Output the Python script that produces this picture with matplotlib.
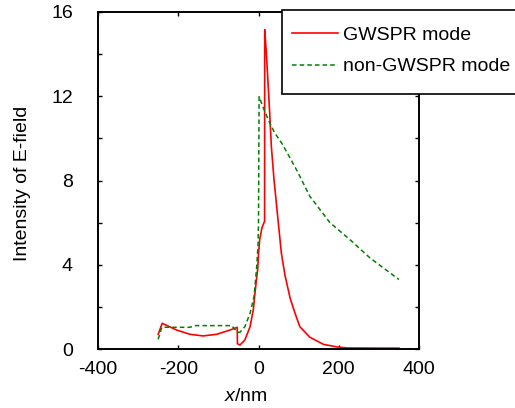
import numpy as np
import matplotlib
matplotlib.use('Agg')
import matplotlib.pyplot as plt
from matplotlib.patches import Rectangle
from matplotlib.ticker import MultipleLocator

plt.rcParams['font.family'] = ['Liberation Sans', 'DejaVu Sans']
plt.rcParams['mathtext.fontset'] = 'custom'
plt.rcParams['mathtext.rm'] = 'Liberation Sans'
plt.rcParams['mathtext.it'] = 'Liberation Sans:italic'
plt.rcParams['axes.unicode_minus'] = False

# GWSPR mode
x_gw = [-250, -240, -204, -171, -138, -104, -71, -53, -52.5, -46, -34, -21, -13, -7, -2, 0,
        3, 8.7, 13.7, 15.2, 15.5, 19.5, 23.7, 27.9, 32, 38.6, 48.6, 57, 66, 79, 91, 103,
        128, 162, 195, 220, 350]
y_gw = [0.7, 1.22, 0.9, 0.7, 0.62, 0.7, 0.9, 1.03, 0.25, 0.19, 0.43, 1.06, 1.86, 2.97, 3.8, 4.5,
        5.2, 5.76, 6.0, 6.05, 15.16, 14.08, 12.65, 11.2, 9.63, 8.05, 6.14, 4.55, 3.5, 2.4, 1.7, 1.06,
        0.56, 0.22, 0.1, 0.05, 0.04]

# non-GWSPR mode
x_non = [-250, -241, -171, -159, -67, -55, -51, -46, -34, -21, -11, -4.5, -1, 0,
         1.5, 11, 24, 40, 57, 72, 95, 128, 178, 228, 278, 350]
y_non = [0.46, 1.03, 1.03, 1.11, 1.11, 0.85, 0.79, 0.8, 1.06, 1.7, 2.5, 3.9, 5.0, 6.0,
         11.98, 11.5, 10.9, 10.27, 9.8, 9.3, 8.5, 7.25, 6.0, 5.19, 4.32, 3.3]

fig = plt.figure(figsize=(5.15, 4.08), dpi=100)
ax = fig.add_axes([98/515, 1-349/408, 321/515, 337/408])

ax.plot(x_gw, y_gw, color='#ff0000', lw=1.2, label='GWSPR mode')
ax.plot(x_non, y_non, color='#008000', lw=1.1, dashes=(3, 2), label='non-GWSPR mode')

ax.set_xlim(-400, 400)
ax.set_ylim(0, 16)
ax.set_xticks([-400, -200, 0, 200, 400])
ax.yaxis.set_major_locator(MultipleLocator(4))
ax.yaxis.set_minor_locator(MultipleLocator(2))
ax.tick_params(which='both', direction='in', top=True, right=True, length=3, width=1)
ax.tick_params(axis='x', labelsize=14, pad=9)
ax.tick_params(axis='y', labelsize=14, pad=18)
for s in ax.spines.values():
    s.set_linewidth(1.4)

ax.set_ylabel('Intensity of E-field', fontsize=14)
ax.yaxis.set_label_coords(-0.209, 0.49)
ax.set_xlabel('$\\mathit{x}$/nm', fontsize=14, va='top')
ax.xaxis.set_label_coords(0.461, -0.1157)

# legend box runs off the right edge of the figure
ax.add_patch(Rectangle((282/515, 1-94/408), 250/515, 84/408, transform=fig.transFigure,
                       facecolor='white', edgecolor='black', lw=1.2, clip_on=False, zorder=4))
leg = ax.legend(loc='upper left', bbox_to_anchor=(292/515, 1-26/408), bbox_transform=fig.transFigure,
                frameon=False, fontsize=14, borderpad=0, borderaxespad=0,
                handlelength=2.37, handletextpad=0.26, labelspacing=0.73)
leg.set_zorder(5)

fig.savefig('out.png', dpi=100)
